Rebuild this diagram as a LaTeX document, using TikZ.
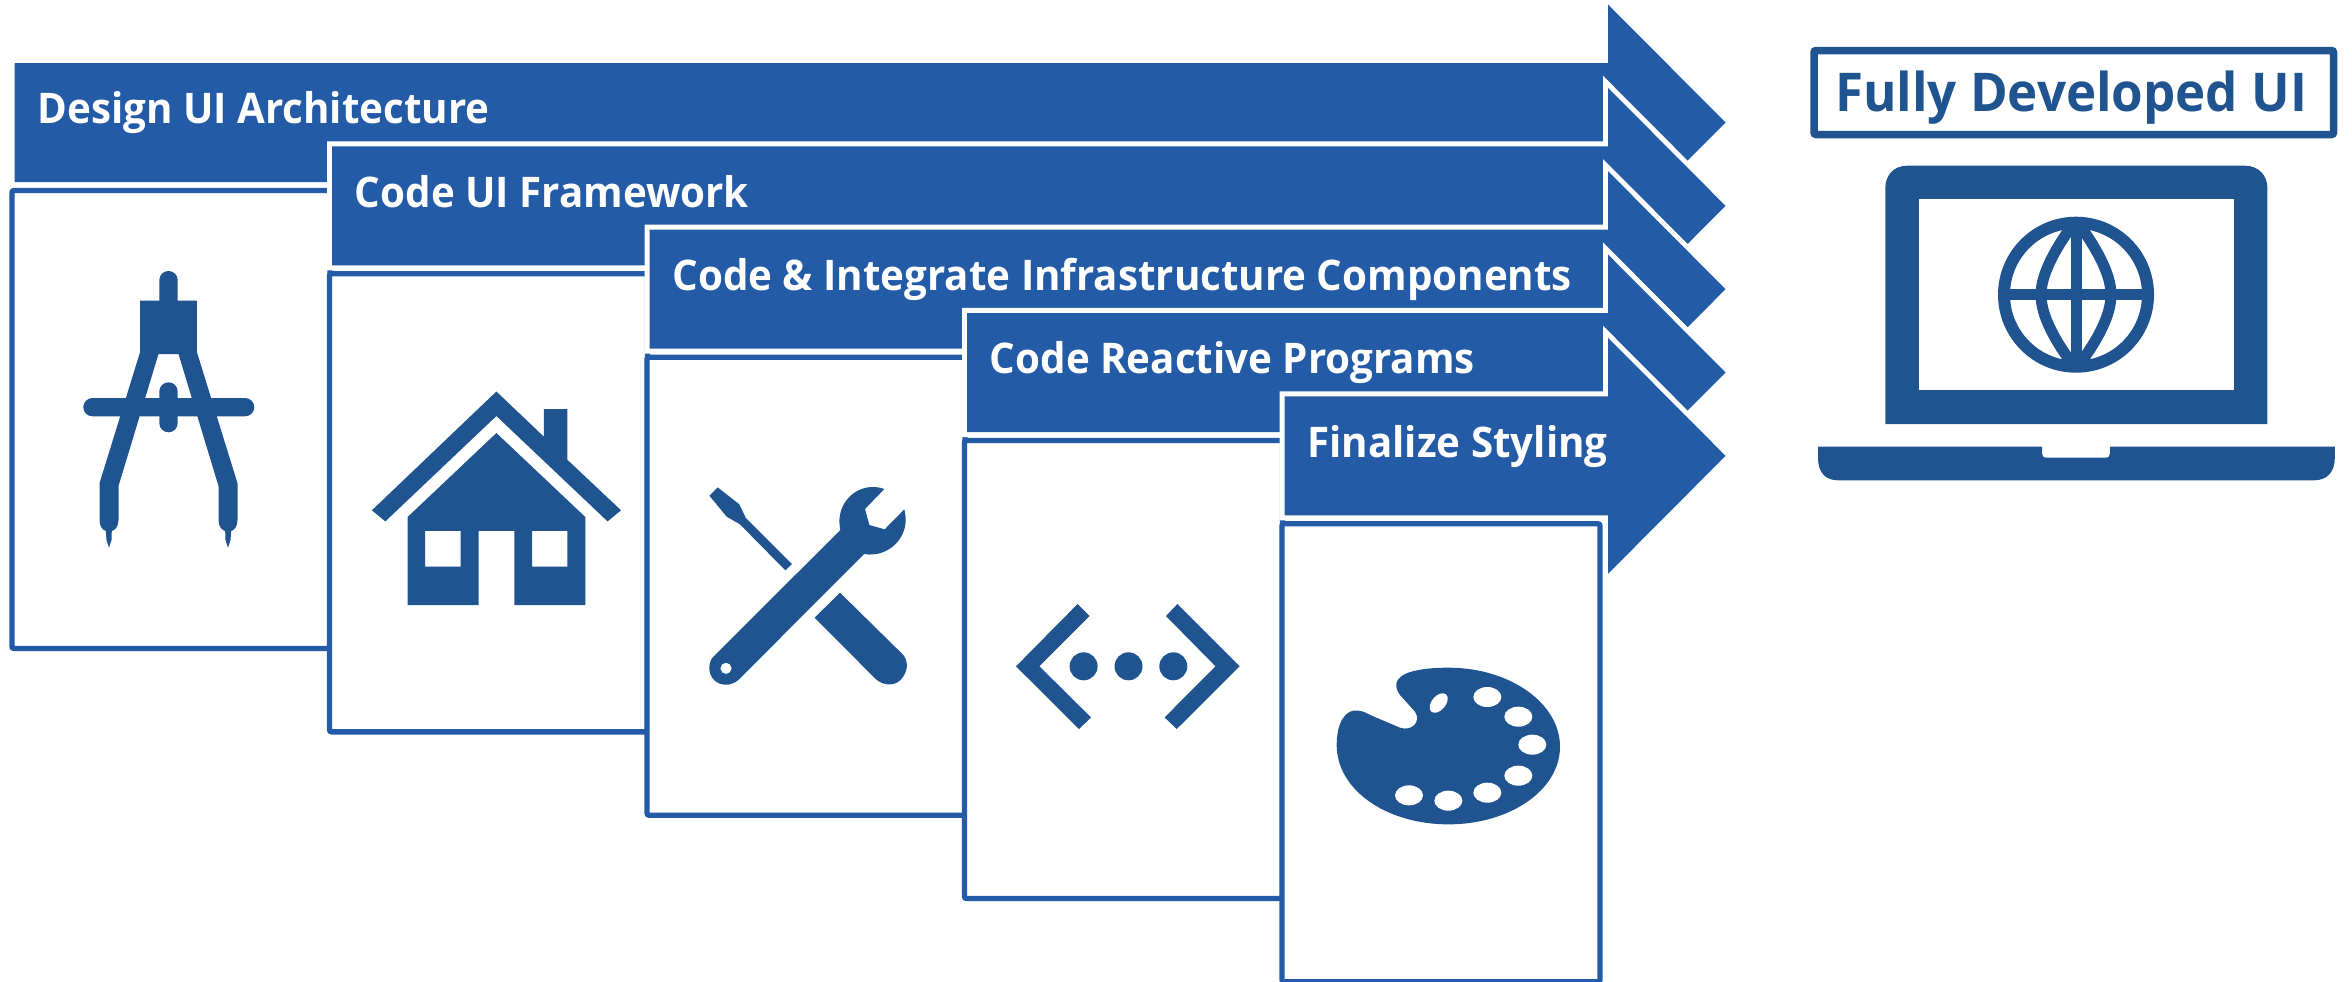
\documentclass[tikz,border=0pt]{standalone}
\usepackage{fontspec}
\setmainfont{Open Sans}[FakeStretch=.955]
\definecolor{stepblue}{HTML}{245BA7}
\definecolor{iconblue}{HTML}{1F5490}
\tikzset{
  steparrow/.style={fill=stepblue,preaction={draw=white,line width=1mm,miter limit=10}},
  cardbox/.style={draw=stepblue,fill=white,line width=.53mm,rounded corners=.2mm},
  steplabel/.style={anchor=base west,inner sep=0pt,text=white,font=\fontsize{12}{13}\selectfont\bfseries},
  icon/.style={fill=iconblue,even odd rule}
}
\begin{document}
\begin{tikzpicture}[x=.01cm,y=-.01cm]
\useasboundingbox (0,0) rectangle (2352,981);

\foreach \i/\txt in {0/Design UI Architecture,1/Code UI Framework,2/Code \& Integrate Infrastructure Components,3/Code Reactive Programs,4/Finalize Styling}{
  \pgfmathsetmacro{\xa}{14.7+317.5*\i}
  \pgfmathsetmacro{\ya}{122.5+83.33*\i}
  \draw[steparrow,draw=none] (\xa,\ya-59.5) -- (1608,\ya-59.5) -- (1608,\ya-118) -- (1725.5,\ya) -- (1608,\ya+118) -- (1608,\ya+59.5) -- (\xa,\ya+59.5) -- cycle;
  \draw[cardbox] (\xa-2.7,\ya+68) rectangle (\xa+315.3,\ya+526);
  \node[steplabel] (label\i) at (\xa+22,\ya+1.2) {\txt};
}

% compass
\begin{scope}[shift={(168.5,0)}]
\foreach \s in {1,-1}{
  \begin{scope}[xscale=\s]
  \fill[icon] (-28.3,300.7) -- (0,300.7) -- (0,354) -- (-10,354) -- (-50,486) -- (-50,520) .. controls (-50,526) and (-53,530) .. (-56.7,531) -- (-57,540) -- (-59.5,547.7) -- (-62,540) -- (-62.7,531) .. controls (-66,530) and (-69,526) .. (-69,520) -- (-69,483.3) -- (-28.3,351.7) -- cycle;
  \end{scope}
}
\fill[icon] (-10,300.7) rectangle (10,354);
\fill[icon,rounded corners=.9mm] (-9.2,271) rectangle (9.2,320);
\fill[icon,rounded corners=.92mm] (-85.2,398) rectangle (85.8,416.3);
\fill[icon,rounded corners=.92mm] (-9.2,382.3) rectangle (9.2,432.3);
\end{scope}

% house
\fill[icon] (371.9,510.3) -- (496.4,391.5) -- (543.8,436.6) -- (543.8,409) -- (567.4,409) -- (567.4,459.8) -- (621,510.3) -- (607.6,521.4) -- (496.4,416) -- (385.3,521.4) -- cycle;
\fill[icon] (496.4,433) -- (585.3,517) -- (585.3,605) -- (514.3,605) -- (514.3,530.8) -- (478.6,530.8) -- (478.6,605) -- (407.6,605) -- (407.6,517) -- cycle
  (425,530.8) rectangle (460.7,566.5) (532,530.8) rectangle (567.4,566.5);

% tools
\begin{scope}[shift={(680,470)},x=.01cm/3,y=-.01cm/3]
\fill[icon] (113,52) -- (178,103) -- (197,143) -- (336,282) -- (316,301) -- (180,163) -- (140,140) -- (88,77) -- cycle;
\fill[icon] (480,368) -- (404,443) -- (585,625) .. controls (610,650) and (650,650) .. (668,622) .. controls (688,595) and (682,565) .. (665,550) -- cycle;
\fill[icon] (613,57) -- (555,117) -- (568,165) -- (614,178) -- (673,118) .. controls (695,200) and (625,265) .. (552,252) -- (175,630) .. controls (140,660) and (88,640) .. (88,595) .. controls (88,580) and (92,568) .. (100,560) -- (481,180) .. controls (462,95) and (540,30) .. (613,57) -- cycle
  (138,595) circle (17);
\end{scope}

% code
\fill[icon] (1077.6,604) -- (1016,666.3) -- (1079,729) -- (1091,717.4) -- (1039.4,666.3) -- (1089.6,616) -- cycle;
\fill[icon] (1177.4,604) -- (1239.6,666.3) -- (1176.7,729) -- (1164.6,717.4) -- (1215.5,666.3) -- (1166,616) -- cycle;
\foreach \dx in {1083.6,1128.5,1173.3}
  \fill[icon] (\dx,666.3) circle (14);

% palette
\begin{scope}[shift={(1310,650)},x=.01cm/3,y=-.01cm/3]
\fill[icon] (415,53) .. controls (600,53) and (750,160) .. (750,290) .. controls (750,420) and (600,523) .. (415,523) .. controls (230,523) and (80,420) .. (80,285) .. controls (80,220) and (105,175) .. (145,182) .. controls (160,183) and (170,190) .. (185,197) -- (270,233) .. controls (305,245) and (335,215) .. (315,185) -- (270,135) .. controls (255,115) and (250,90) .. (285,72) .. controls (315,58) and (365,53) .. (415,53) -- cycle;
\foreach \hx/\hy in {532/141,625/200,667/284,625/377,532/428,415/452,297/436}
  \fill[white] (\hx,\hy) ellipse (42 and 30);
\fill[white,rotate around={50:(386,159)}] (386,159) ellipse (34 and 21);
\end{scope}

% result
\draw[draw=iconblue,line width=.75mm,rounded corners=.2mm] (1814,50.5) rectangle (2333.5,134.5);
\node[anchor=base,inner sep=0pt,text=iconblue,font=\fontsize{15.2}{17}\selectfont\bfseries] (result) at (2071,111.7) {Fully Developed UI};

% laptop
\fill[icon] (1885.3,424) -- (1885.3,188) .. controls (1885.3,175) and (1894,165.7) .. (1907,165.7) -- (2245,165.7) .. controls (2258,165.7) and (2267.4,175) .. (2267.4,188) -- (2267.4,424) -- cycle;
\fill[white] (1919,199.4) rectangle (2233.7,390.4);
\fill[icon] (1818,446.6) -- (2042,446.6) -- (2042,453) .. controls (2042,456) and (2043,457.7) .. (2047,457.7) -- (2105,457.7) .. controls (2109,457.7) and (2110,456) .. (2110,453) -- (2110,446.6) -- (2334.8,446.6) -- (2334.8,458) .. controls (2334.8,472) and (2327,480.3) .. (2314,480.3) -- (1838,480.3) .. controls (1825,480.3) and (1818,472) .. (1818,458) -- cycle;

% globe
\draw[iconblue,line width=.12cm] (2076,294.7) circle (72);
\draw[iconblue,line width=.11cm] (2076,222) -- (2076,367) (2004,294.7) -- (2148,294.7);
\foreach \s in {1,-1}
  \draw[iconblue,line width=.11cm,shift={(2076,0)},xscale=\s] (0,220) .. controls (-22,250) and (-35,275) .. (-35,294.7) .. controls (-35,315) and (-22,340) .. (0,369);
\end{tikzpicture}
\end{document}
